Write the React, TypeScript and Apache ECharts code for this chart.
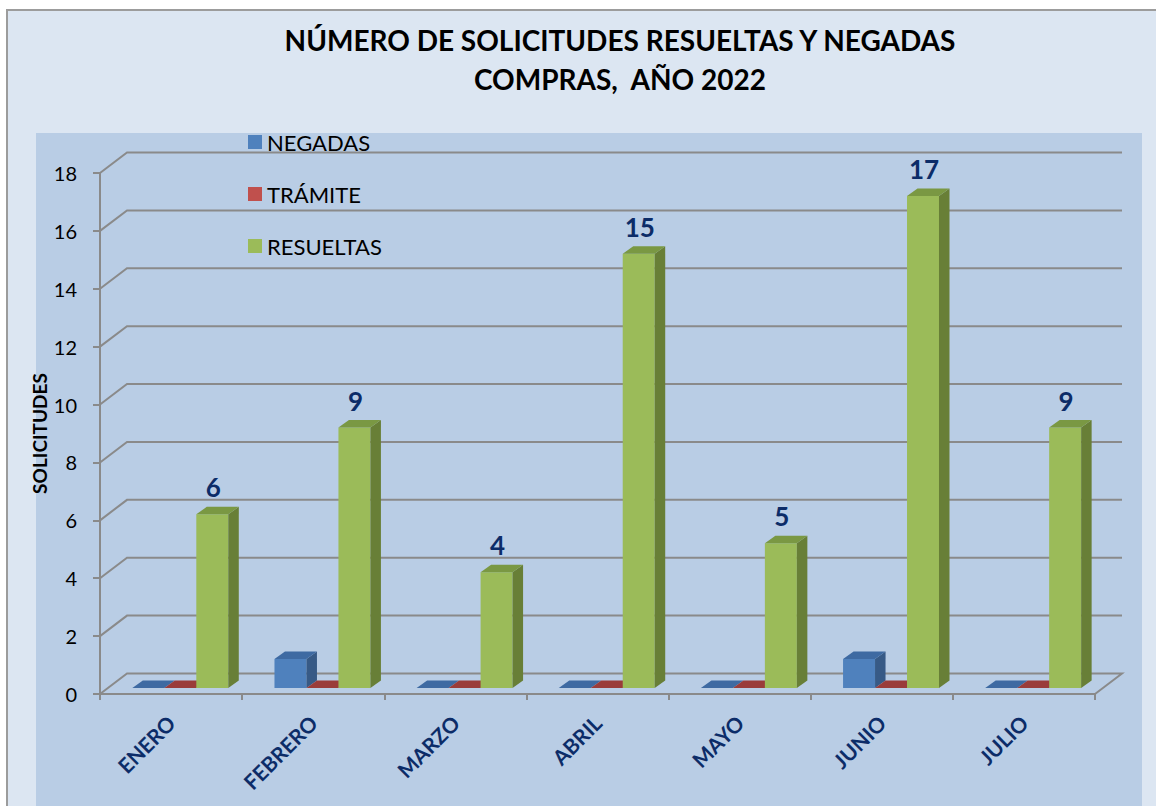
import React, { useEffect, useRef } from "react";
import * as echarts from "echarts";

const categories = ["ENERO", "FEBRERO", "MARZO", "ABRIL", "MAYO", "JUNIO", "JULIO"];
const negadas = [0, 1, 0, 0, 0, 1, 0];
const tramite = [0, 0, 0, 0, 0, 0, 0];
const resueltas = [6, 9, 4, 15, 5, 17, 9];
const yTicks = [0, 2, 4, 6, 8, 10, 12, 14, 16, 18];
const titleLines = ["NÚMERO DE SOLICITUDES RESUELTAS Y NEGADAS", "COMPRAS,  AÑO 2022"];

const FONT = "Lato, 'Noto Sans', sans-serif";
const NAVY = "#0c2c68";
const GRID_COLOR = "#8a8a8a";
const WALL_DX = 27;
const WALL_DY = -20.5;
const BAR_DX = 10.5;
const BAR_DY = -7.5;
const BAR_LIFT = 6;

const seriesStyles = [
  { name: "NEGADAS", front: "#4f81bd", side: "#375a86", top: "#3e6aa2" },
  { name: "TRÁMITE", front: "#c0504d", side: "#8c3a38", top: "#9a3c3a" },
  { name: "RESUELTAS", front: "#9bbb59", side: "#687f37", top: "#7a9843" },
];
const seriesValues = [negadas, tramite, resueltas];

export default function App() {
  const ref = useRef<HTMLDivElement>(null);
  useEffect(() => {
    if (!ref.current) return;
    const chart = echarts.init(ref.current, null, { renderer: "svg" });

    const gridSeries = {
      type: "custom",
      name: "grid",
      coordinateSystem: "cartesian2d",
      clip: false,
      silent: true,
      z: 1,
      data: yTicks.map((v) => [0, v]),
      renderItem: (params: any, api: any) => {
        const v = api.value(1);
        const bw = api.size([1, 0])[0];
        const pL = api.coord([0, v]);
        const pR = api.coord([categories.length - 1, v]);
        const xL = pL[0] - bw / 2;
        const xR = pR[0] + bw / 2;
        const y = pL[1];
        const pts = [
          [xL, y],
          [xL + WALL_DX, y + WALL_DY],
          [xR + WALL_DX, y + WALL_DY],
        ];
        if (v === 0) pts.push([xR, y]);
        return {
          type: "polyline",
          shape: { points: pts },
          style: { stroke: GRID_COLOR, lineWidth: 2, fill: null },
        };
      },
    };

    const barSeries = seriesStyles.map((s, sIdx) => ({
      type: "custom",
      name: s.name,
      coordinateSystem: "cartesian2d",
      clip: false,
      z: 3,
      itemStyle: { color: s.front },
      data: seriesValues[sIdx].map((v, i) => [i, v]),
      renderItem: (params: any, api: any) => {
        const idx = api.value(0);
        const val = api.value(1);
        const bw = api.size([1, 0])[0];
        const base = api.coord([idx, 0]);
        const topP = api.coord([idx, val]);
        const catStart = base[0] - bw / 2;
        const w = bw * 0.225;
        const x0 = catStart + bw * 0.2275 + sIdx * w;
        const yb = base[1] - BAR_LIFT;
        const yt = topP[1] - BAR_LIFT;
        const children: any[] = [];
        if (yb - yt > 0.5) {
          children.push({
            type: "rect",
            shape: { x: x0, y: yt, width: w, height: yb - yt },
            style: { fill: s.front },
          });
          children.push({
            type: "polygon",
            shape: {
              points: [
                [x0 + w, yb],
                [x0 + w + BAR_DX, yb + BAR_DY],
                [x0 + w + BAR_DX, yt + BAR_DY],
                [x0 + w, yt],
              ],
            },
            style: { fill: s.side },
          });
        }
        children.push({
          type: "polygon",
          shape: {
            points: [
              [x0, yt],
              [x0 + w, yt],
              [x0 + w + BAR_DX, yt + BAR_DY],
              [x0 + BAR_DX, yt + BAR_DY],
            ],
          },
          style: { fill: s.top },
        });
        if (sIdx === 2) {
          children.push({
            type: "text",
            x: x0 + w / 2 + 1,
            y: yt - 27,
            style: {
              text: String(val),
              fill: NAVY,
              fontSize: 26,
              fontWeight: "bold",
              fontFamily: FONT,
              align: "center",
              verticalAlign: "middle",
            },
          });
        }
        return { type: "group", children };
      },
    }));

    const option: any = {
      animation: false,
      backgroundColor: "#ffffff",
      graphic: [
        {
          type: "rect",
          z: -100,
          shape: { x: 7, y: 10, width: 1160, height: 810 },
          style: { fill: "#dce6f2", stroke: "#9c9c9c", lineWidth: 2 },
        },
        {
          type: "rect",
          z: -99,
          shape: { x: 36, y: 133, width: 1106, height: 690 },
          style: { fill: "#b9cde5" },
        },
        {
          type: "text",
          x: 620,
          y: 40,
          style: {
            text: titleLines[0],
            fill: "#000",
            fontSize: 28,
            fontWeight: "bold",
            fontFamily: FONT,
            align: "center",
            verticalAlign: "middle",
          },
        },
        {
          type: "text",
          x: 620,
          y: 79,
          style: {
            text: titleLines[1],
            fill: "#000",
            fontSize: 28,
            fontWeight: "bold",
            fontFamily: FONT,
            align: "center",
            verticalAlign: "middle",
          },
        },
      ],
      legend: {
        orient: "vertical",
        left: 243,
        top: 126,
        itemWidth: 14,
        itemHeight: 14,
        itemGap: 30,
        icon: "rect",
        selectedMode: false,
        data: seriesStyles.map((s) => s.name),
        textStyle: { fontSize: 22, lineHeight: 22, color: "#000", fontFamily: FONT },
      },
      grid: { left: 100, right: 61, top: 173, bottom: 112 },
      xAxis: {
        type: "category",
        data: categories,
        boundaryGap: true,
        axisLine: { show: true, lineStyle: { color: GRID_COLOR, width: 2 } },
        axisTick: { show: true, length: 6, lineStyle: { color: GRID_COLOR, width: 2 } },
        axisLabel: {
          rotate: 45,
          margin: 25,
          verticalAlign: "middle",
          color: NAVY,
          fontSize: 21,
          fontWeight: "bold",
          fontFamily: FONT,
        },
      },
      yAxis: {
        type: "value",
        min: 0,
        max: 18,
        interval: 2,
        name: "SOLICITUDES",
        nameLocation: "middle",
        nameGap: 51,
        nameMoveOverlap: false,
        nameRotate: 90,
        nameTextStyle: { fontSize: 19, fontWeight: "bold", color: "#000", fontFamily: FONT },
        axisLine: { show: true, lineStyle: { color: GRID_COLOR, width: 2 } },
        axisTick: { show: true, length: 7, lineStyle: { color: GRID_COLOR, width: 2 } },
        splitLine: { show: false },
        axisLabel: { margin: 23, color: "#000", fontSize: 20, fontFamily: FONT },
      },
      series: [gridSeries, ...barSeries],
    };
    chart.setOption(option);
    return () => chart.dispose();
  }, []);
  return (
    <div
      ref={ref}
      style={{ position: "absolute", left: 0, top: 0, width: 1156, height: 806 }}
    />
  );
}
